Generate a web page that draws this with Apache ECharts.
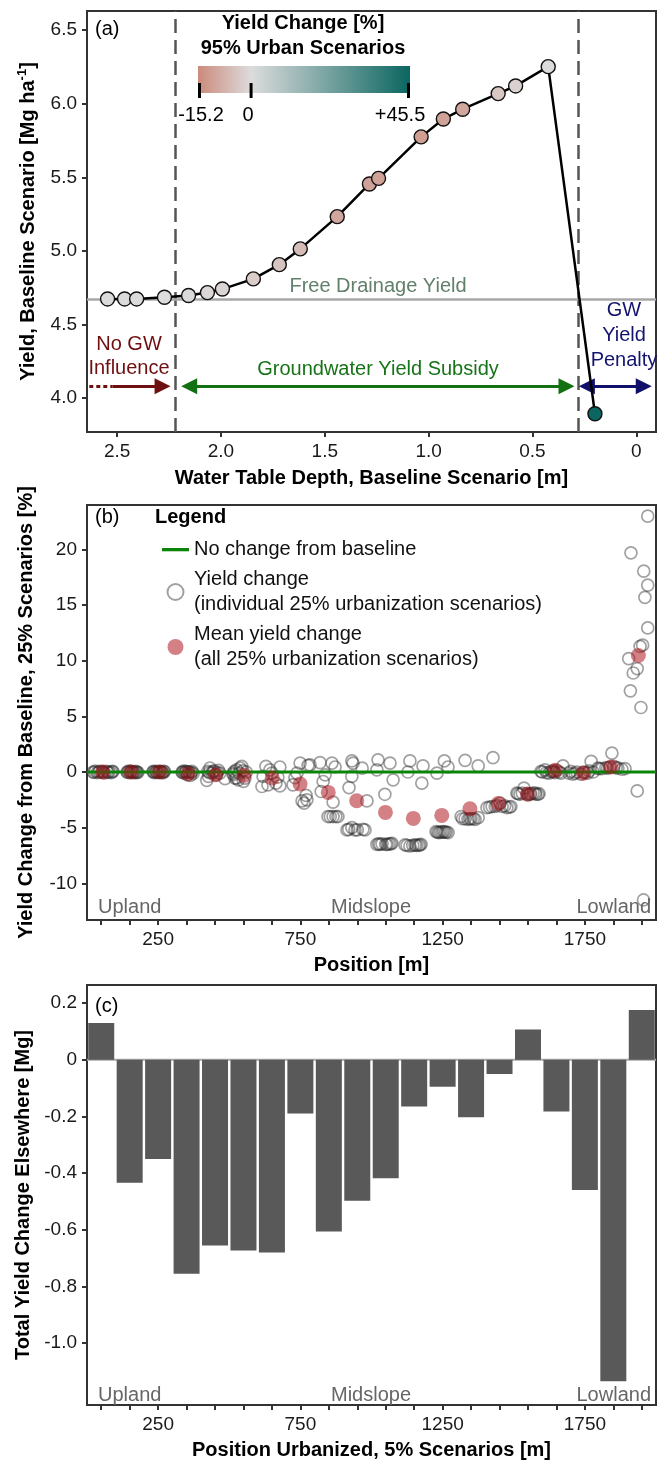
<!DOCTYPE html>
<html><head><meta charset="utf-8">
<script src="https://cdn.jsdelivr.net/npm/echarts@6/dist/echarts.min.js"></script>
<style>html,body{margin:0;padding:0;background:#fff}#c{width:660px;height:1461px}</style>
</head><body><div id="c"></div>
<script>
const FONT = "'Liberation Sans', Arial, Helvetica, sans-serif";

// ---------- Panel (a) ----------
const depthA  = [2.546,2.464,2.406,2.272,2.156,2.065,1.993,1.844,1.719,1.618,1.440,1.285,1.241,1.036,0.929,0.836,0.665,0.581,0.424,0.199];
const yieldA  = [4.674,4.674,4.674,4.685,4.697,4.717,4.741,4.810,4.907,5.014,5.233,5.455,5.493,5.775,5.896,5.963,6.069,6.121,6.252,3.894];
const changeA = [0.3,0.3,0.2,0,-0.5,-1,-1.5,-3,-4.5,-6,-10,-11,-11,-11.5,-11,-10,-4,-2,0.3,45.5];
const freeDrainageYield = 4.674;
const gwBoundaries = [2.216, 0.277];
const xTicksA = [0, 0.5, 1, 1.5, 2, 2.5];
const yTicksA = [4, 4.5, 5, 5.5, 6, 6.5];
const colorbarTicks = [-15.2, 0, 45.5];
const colorbarLabels = ['-15.2', '0', '+45.5'];

// ---------- Panel (b) ----------
const meanPos    = [55,155,255,355,452,552,651,749,848,948,1049,1147,1247,1346,1446,1548,1645,1744,1842,1938];
const meanChange = [0,0,0,-0.15,-0.24,-0.3,-0.54,-1.08,-1.83,-2.58,-3.63,-4.17,-3.9,-3.3,-2.82,-1.98,0.15,-0.1,0.45,10.47];
const indivPoints = [
 [21,0],[25,-0.03],[29,0.08],[37,-0.05],[41,0.02],[45,0.05],[53,0],[57,0.04],[61,-0.08],[69,0.05],[73,-0.03],[77,0],[85,-0.05],[89,0.06],[91,0.03],
 [141,0],[143,-0.04],[146,0.08],[151,-0.06],[153,0.05],[156,0.03],[161,0],[163,0.02],[166,-0.05],[171,0.06],[173,-0.06],[176,0],[179,-0.03],
 [232,0.02],[234,0.05],[237,-0.06],[242,0.07],[244,-0.03],[247,0],[252,-0.04],[254,0.04],[257,0.05],[262,0],[264,-0.02],[267,-0.07],[270,0.06],[272,0.03],
 [334,0],[336,-0.05],[339,0.08],[344,-0.1],[346,0.06],[349,0.04],[354,-0.25],[356,0.02],[359,0],[364,-0.3],[366,-0.05],[369,0.05],[373,-0.12],
 [421,-0.75],[425,0.05],[427,-0.4],[430,-0.05],[432,0.36],[440,-0.1],[443,0.03],[447,0.1],[455,-0.25],[458,-0.05],[462,0.15],[467,-0.1],[485,-0.6],
 [514,-0.1],[514,-0.24],[518,0.05],[520,-0.54],[526,0.2],[526,-0.55],[532,-0.7],[535,-0.1],[538,0.36],[544,0.5],[548,0.1],[550,-0.84],[555,-0.54],[560,0],
 [615,-1.3],[619,-0.4],[629,0.5],[636,-1.15],[643,0.2],[650,-0.1],[664,-1.0],[671,-0.45],[678,0.45],[678,-1.25],
 [724,-1.15],[731,-0.5],[738,-0.1],[749,0.8],[756,-2.6],[763,-2.8],[770,-2.1],[773,-2.5],[777,0.6],[784,0.65],
 [819,0.85],[823,-1.75],[830,-0.85],[837,-0.25],[847,-4.0],[855,-4.0],[861,0.8],[865,-2.7],[865,-4.0],[872,0.45],[875,-4.0],[882,-4.0],
 [914,-5.2],[920,-5.15],[921,-1.4],[931,1.0],[931,-0.4],[931,-5.0],[935,0.8],[942,-5.2],[950,-5.2],[967,0.35],[970,-5.15],[977,-5.2],[984,-2.6],
 [1019,0.2],[1023,1.1],[1019,-6.5],[1025,-6.45],[1030,-6.5],[1037,-6.45],[1047,-2.0],[1050,-6.5],[1055,-6.5],[1062,-6.45],[1065,0.8],[1068,-6.45],[1072,-6.4],[1076,-0.7],
 [1118,-6.55],[1125,-6.6],[1128,0.0],[1135,1.0],[1135,-6.65],[1145,-6.6],[1153,-6.55],[1158,-6.6],[1165,-6.6],[1170,-6.55],[1174,-6.5],[1177,-1.0],[1181,0.55],
 [1227,-5.35],[1230,-0.1],[1232,-5.4],[1237,-5.45],[1242,-5.4],[1248,-5.4],[1253,-5.35],[1256,1.0],[1258,-5.4],[1263,-5.4],[1269,0.45],[1269,-5.45],
 [1315,-4.0],[1320,-4.2],[1329,1.05],[1329,-4.2],[1339,-4.25],[1345,-4.2],[1350,-4.2],[1358,-4.2],[1364,-4.25],[1375,0.55],[1375,-4.1],
 [1406,-3.2],[1415,-3.15],[1424,-3.1],[1427,1.3],[1435,-3.1],[1441,-3.0],[1452,-2.8],[1459,-3.1],[1468,-3.05],[1476,-3.2],[1485,-3.15],[1490,-3.1],
 [1511,-1.9],[1515,-1.95],[1522,-2.0],[1530,-1.9],[1536,-1.45],[1547,-1.95],[1550,-2.05],[1557,-2.0],[1560,-1.95],[1568,-1.9],[1575,-1.9],[1578,-2.0],[1585,-2.0],[1589,-1.95],
 [1596,0.05],[1600,0.0],[1610,0.2],[1615,-0.05],[1624,-0.1],[1631,0.05],[1638,0.0],[1640,0.1],[1645,-0.05],[1652,0.15],[1660,0.0],[1666,-0.1],[1673,0.55],
 [1694,-0.1],[1700,0.05],[1708,-0.2],[1715,-0.1],[1722,0.0],[1736,-0.2],[1745,0.0],[1750,-0.05],[1760,-0.1],[1765,0.1],[1772,0.95],[1779,0.0],
 [1796,0.35],[1800,0.3],[1810,0.3],[1824,0.4],[1830,0.35],[1838,0.45],[1845,1.7],[1852,0.5],[1860,0.4],[1866,0.35],[1880,0.25],[1891,0.3],
 [1904,10.2],[1910,7.3],[1912,19.7],[1920,8.9],[1934,9.3],[1934,-1.7],[1944,11.3],[1947,5.8],[1953,11.4],[1956,-11.5],[1957,18.05],[1961,15.7],[1971,23.0],[1971,16.8],[1971,12.95]
];
const yTicksB = [-10, -5, 0, 5, 10, 15, 20];

// ---------- Panel (c) ----------
const barPos    = [50,150,250,350,450,550,650,750,850,950,1050,1150,1250,1350,1450,1550,1650,1750,1850,1950];
const barChange = [0.13,-0.434,-0.35,-0.755,-0.655,-0.673,-0.68,-0.189,-0.606,-0.497,-0.418,-0.165,-0.095,-0.203,-0.05,0.107,-0.182,-0.459,-1.134,0.176];
const yTicksC = [-1.0, -0.8, -0.6, -0.4, -0.2, 0, 0.2];

// shared position axis ticks
const posTicks  = [50,150,250,350,450,550,650,750,850,950,1050,1150,1250,1350,1450,1550,1650,1750,1850,1950];
const posLabels = [250, 750, 1250, 1750];

const NAME_LINE = 'No change from baseline';
const NAME_IND  = 'Yield change\n(individual 25% urbanization scenarios)';
const NAME_MEAN = 'Mean yield change\n(all 25% urbanization scenarios)';

function axis(o) {
  return {
    type: 'value', gridIndex: o.grid, min: o.min, max: o.max, inverse: !!o.inverse,
    name: o.name, nameLocation: 'middle', nameGap: o.nameGap,
    nameTextStyle: Object.assign({fontFamily: FONT, fontSize: 20, fontWeight: 'bold', color: '#000'}, o.nameStyle || {}),
    axisLine: {show: true, onZero: false, lineStyle: {color: '#333', width: 2}},
    axisTick: {show: true, length: 5, customValues: o.ticks, lineStyle: {color: '#333', width: 2}},
    axisLabel: {fontFamily: FONT, fontSize: 19, color: '#1a1a1a', margin: 10, customValues: o.labels || o.ticks, formatter: o.fmt},
    splitLine: {show: false}
  };
}
const fmt1 = v => (Math.abs(v) < 1e-9 ? '0' : v.toFixed(1));
const fmt0 = v => String(Math.round(v));

const txt = (text, x, y, o) => ({type: 'text', x, y, z: 100, silent: true,
  style: Object.assign({text, fill: '#000', font: `20px ${FONT}`, align: 'center', verticalAlign: 'middle'}, o || {})});

// colorbar geometry (legend graphic)
const cb = {x: 198, y: 66, w: 212, h: 27};
const cbPos = v => cb.x + (v - colorbarTicks[0]) / (colorbarTicks[2] - colorbarTicks[0]) * cb.w;
const cbLabelShift = [3, -3, -10];
const zeroFrac = (0 - colorbarTicks[0]) / (colorbarTicks[2] - colorbarTicks[0]);

const graphics = [
  txt('(a)', 95, 29, {align: 'left'}),
  txt('Yield Change [%]', 303, 23, {font: `bold 20px ${FONT}`}),
  txt('95% Urban Scenarios', 303, 48, {font: `bold 20px ${FONT}`}),
  {type: 'rect', z: 100, silent: true, shape: {x: cb.x, y: cb.y, width: cb.w, height: cb.h},
   style: {fill: new echarts.graphic.LinearGradient(0, 0, 1, 0, [
     {offset: 0, color: '#cc8a7c'}, {offset: zeroFrac, color: '#dcdcdc'}, {offset: 1, color: '#0b6661'}])}},
  txt('Free Drainage Yield', 378, 286, {fill: '#62806a'}),
  txt('No GW\nInfluence', 129, 356, {fill: '#6e1010', lineHeight: 24}),
  txt('Groundwater Yield Subsidy', 378, 369, {fill: '#177317'}),
  txt('GW\nYield\nPenalty', 624, 335, {fill: '#14146e', lineHeight: 25}),
  txt('(b)', 95, 517, {align: 'left'}),
  txt('Legend', 155, 517, {align: 'left', font: `bold 20px ${FONT}`}),
  txt('Upland', 98, 907, {align: 'left', fill: '#666'}),
  txt('Midslope', 371, 907, {fill: '#666'}),
  txt('Lowland', 651, 907, {align: 'right', fill: '#666'}),
  txt('(c)', 95, 1006, {align: 'left'}),
  txt('Upland', 98, 1395, {align: 'left', fill: '#666'}),
  txt('Midslope', 371, 1395, {fill: '#666'}),
  txt('Lowland', 651, 1395, {align: 'right', fill: '#666'})
];
colorbarTicks.forEach((v, i) => {
  let x = cbPos(v);
  if (i === 0) x += 1.5; if (i === colorbarTicks.length - 1) x -= 1.5;
  graphics.push({type: 'line', z: 101, silent: true, shape: {x1: x, y1: 83, x2: x, y2: 98}, style: {stroke: '#000', lineWidth: 3}});
  graphics.push(txt(colorbarLabels[i], cbPos(v) + cbLabelShift[i], 115));
});

// arrows (depth units, at yield 4.081)
const arrowY = 4.081;
const seg = (a, b, color, s0, s1, dash) => [
  {coord: [a, arrowY], symbol: s0, symbolSize: [16, 16], lineStyle: {color, width: 3, type: dash || 'solid'}, itemStyle: {color}},
  {coord: [b, arrowY], symbol: s1, symbolSize: [16, 16], itemStyle: {color}}
];

const option = {
  animation: false,
  backgroundColor: '#fff',
  textStyle: {fontFamily: FONT},
  grid: [
    {left: 87, right: 4, top: 11, bottom: 1461 - 432, show: true, borderColor: '#333', borderWidth: 2},
    {left: 87, right: 4, top: 505, bottom: 1461 - 920, show: true, borderColor: '#333', borderWidth: 2},
    {left: 87, right: 4, top: 985, bottom: 1461 - 1408, show: true, borderColor: '#333', borderWidth: 2}
  ],
  xAxis: [
    axis({grid: 0, min: -0.095, max: 2.645, inverse: true, name: 'Water Table Depth, Baseline Scenario [m]', nameGap: 36, ticks: xTicksA, fmt: fmt1}),
    axis({grid: 1, min: 0, max: 2000, name: 'Position [m]', nameGap: 35, ticks: posTicks, labels: posLabels, fmt: fmt0}),
    axis({grid: 2, min: 0, max: 2000, name: 'Position Urbanized, 5% Scenarios [m]', nameGap: 35, ticks: posTicks, labels: posLabels, fmt: fmt0})
  ],
  yAxis: [
    axis({grid: 0, min: 3.77, max: 6.63, name: '{t|Yield, Baseline Scenario [Mg ha}{s|-1}{t|]}', nameGap: 47, ticks: yTicksA, fmt: fmt1,
      nameStyle: {rich: {
        t: {fontFamily: FONT, fontSize: 20, fontWeight: 'bold', color: '#000', lineHeight: 24},
        s: {fontFamily: FONT, fontSize: 13, fontWeight: 'bold', color: '#000', verticalAlign: 'top', lineHeight: 14}}}}),
    axis({grid: 1, min: -13.3, max: 24, name: 'Yield Change from Baseline, 25% Scenarios [%]', nameGap: 51, ticks: yTicksB, fmt: fmt0}),
    axis({grid: 2, min: -1.218, max: 0.264, name: 'Total Yield Change Elsewhere [Mg]', nameGap: 51, ticks: yTicksC, fmt: fmt1})
  ],
  visualMap: {
    type: 'continuous', show: false, seriesIndex: 1, dimension: 2,
    min: colorbarTicks[0], max: colorbarTicks[2],
    inRange: {color: ['#cc8a7c', '#dcdcdc', '#96b5b3', '#518d8a', '#0b6661']}
  },
  legend: {
    data: [
      {name: NAME_LINE, icon: 'path://M0,0M0,16M0,6.5L27,6.5L27,9.8L0,9.8Z', itemStyle: {color: '#0a850a'}},
      NAME_IND, NAME_MEAN
    ],
    orient: 'vertical', left: 157, top: 532, itemWidth: 27, itemHeight: 16, itemGap: 5,
    selectedMode: false,
    textStyle: {fontFamily: FONT, fontSize: 20, lineHeight: 25, color: '#111'}
  },
  series: [
    {
      type: 'line', xAxisIndex: 0, yAxisIndex: 0, z: 3,
      data: depthA.map((d, i) => [d, yieldA[i]]),
      symbol: 'none', lineStyle: {color: '#000', width: 2.5},
      markLine: {
        silent: true, z: 1, animation: false, symbol: ['none', 'none'], label: {show: false},
        data: [
          {xAxis: gwBoundaries[0], lineStyle: {color: '#555', width: 2.5, type: [14, 7]}},
          {xAxis: gwBoundaries[1], lineStyle: {color: '#555', width: 2.5, type: [14, 7]}},
          {yAxis: freeDrainageYield, lineStyle: {color: '#a8a8a8', width: 2.5, type: 'solid'}},
          seg(2.634, 2.522, '#6e1010', 'none', 'none', [4, 3]),
          seg(2.522, 2.281, '#6e1010', 'none', 'triangle'),
          seg(2.153, 0.336, '#137013', 'triangle', 'triangle'),
          seg(0.238, -0.036, '#10106b', 'triangle', 'triangle')
        ]
      }
    },
    {
      type: 'scatter', xAxisIndex: 0, yAxisIndex: 0, z: 4,
      data: depthA.map((d, i) => [d, yieldA[i], changeA[i]]),
      symbol: 'circle', symbolSize: 14,
      itemStyle: {borderColor: '#111', borderWidth: 1.4, opacity: 1}
    },
    {
      name: NAME_IND, type: 'scatter', xAxisIndex: 1, yAxisIndex: 1, z: 2,
      data: indivPoints, symbol: 'circle', symbolSize: 12,
      itemStyle: {color: 'rgba(0,0,0,0)', borderColor: 'rgba(40,40,40,0.55)', borderWidth: 1.7}
    },
    {
      name: NAME_LINE, type: 'line', xAxisIndex: 1, yAxisIndex: 1, z: 3,
      data: [[0, 0], [2000, 0]], symbol: 'none', color: '#0a850a',
      lineStyle: {color: '#0a850a', width: 3}
    },
    {
      name: NAME_MEAN, type: 'scatter', xAxisIndex: 1, yAxisIndex: 1, z: 4,
      data: meanPos.map((p, i) => [p, meanChange[i]]), symbol: 'circle', symbolSize: 15,
      itemStyle: {color: 'rgba(172,16,22,0.66)'}
    },
    {
      type: 'line', xAxisIndex: 2, yAxisIndex: 2, z: 1,
      data: [[0, 0], [2000, 0]], symbol: 'none', lineStyle: {color: '#a8a8a8', width: 2}
    },
    {
      type: 'bar', xAxisIndex: 2, yAxisIndex: 2, z: 2,
      data: barPos.map((p, i) => [p, barChange[i]]), barWidth: 26,
      itemStyle: {color: '#595959'}
    }
  ],
  graphic: graphics
};

const chart = echarts.init(document.getElementById('c'), null, {renderer: 'canvas', width: 660, height: 1461});
chart.setOption(option);
</script>
</body></html>
